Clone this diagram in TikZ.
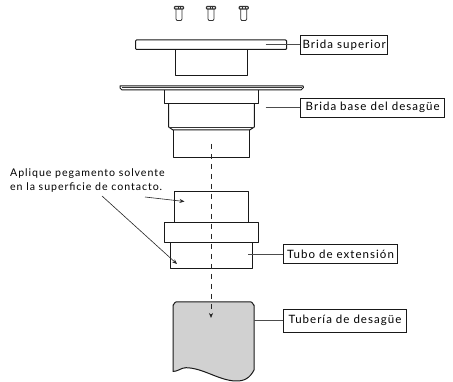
\documentclass[tikz,border=0pt]{standalone}
\usepackage{fontspec}
\setmainfont[LetterSpace=9]{Lato}
\usetikzlibrary{arrows.meta}
\tikzset{
  part/.style={draw=black!90,line width=1pt,line join=round},
  thinpart/.style={draw=black!80,line width=.8pt,line join=round},
  labelbox/.style={draw=black!90,line width=.8pt,fill=white,inner sep=0pt,anchor=center,font=\fontsize{11.5}{13}\selectfont},
  leader/.style={draw=black!70,line width=.9pt},
  callout/.style={draw=black!85,line width=.6pt,-{Stealth[length=5pt,width=4pt]}},
  axisline/.style={draw=black!85,line width=.7pt,dash pattern=on 5pt off 5pt,-{Stealth[length=5pt,width=4pt]}},
  note/.style={inner sep=0pt,anchor=base west,font=\fontsize{10.6}{12}\selectfont}
}
\newcommand{\screw}[1]{%
  \begin{scope}[shift={(#1,0)}]
    \draw[thinpart,fill=white] (-3,8.5) -- (-3,19) -- (-2,20.5) -- (2,20.5) -- (3,19) -- (3,8.5);
    \draw[thinpart,line width=1.1pt,fill=white,rounded corners=.6pt] (-4.5,6.5) rectangle (4.5,9);
    \draw[thinpart,line width=.4pt] (-1.2,6.5) -- (-1.2,9) (1.2,6.5) -- (1.2,9);
  \end{scope}}
\begin{document}
\begin{tikzpicture}[x=1pt,y=-1pt]
\useasboundingbox (0,0) rectangle (453,382);
\fill[white] (0,0) rectangle (453,382);
% screws
\screw{179}\screw{211}\screw{243.7}
% top flange
\draw[part,rounded corners=1pt] (135.5,40) rectangle (286.7,49.5);
\draw[part] (175,49.5) -- (175,76) -- (247.5,76) -- (247.5,49.5);
% base flange
\draw[part,fill=white] (120,86) -- (303,86) -- (303.5,87.5) -- (301,90) -- (122,90) -- (120,88) -- cycle;
\draw[thinpart,line width=.4pt] (122,87.5) -- (302,87.5);
\draw[part] (164.7,90) -- (164.7,103.5) -- (258,103.5) -- (258,90);
\draw[part] (168.7,103.5) -- (168.7,127) -- (173,130) -- (249.7,130) -- (254.3,127) -- (254.3,103.5);
\draw[thinpart,line width=.5pt] (168.7,127) -- (254.3,127);
\draw[part] (173,130) -- (173,157.5) -- (249.7,157.5) -- (249.7,130);
% coupling
\draw[part] (174.3,222.3) -- (174.3,192) -- (248,192) -- (248,222.3);
\draw[part] (164.7,222.3) rectangle (258.3,242.3);
\draw[part] (170,242.3) -- (170,269) -- (252.7,269) -- (252.7,242.3);
% pipe
\draw[part,fill=black!18] (173,371.5) -- (173,305) to[out=-90,in=180] (176,302) -- (251,302) to[out=0,in=-90] (254,305) -- (254,370)
  .. controls (250,378) and (244,381.5) .. (235,381)
  .. controls (218,380) and (203,368) .. (186,367.7)
  .. controls (181,367.7) and (178,371.5) .. (173,371.5) -- cycle;
% axis
\coordinate (axisTop) at (211,144);
\coordinate (axisEnd) at (211,318);
\draw[axisline] (axisTop) -- (axisEnd);
% labels
\node[labelbox,minimum width=87pt,minimum height=19pt] (ls) at (344.2,44.8) {Brida superior};
\node[labelbox,minimum width=144pt,minimum height=19pt] (lb) at (372.7,107.8) {Brida base del desagüe};
\node[labelbox,minimum width=114.4pt,minimum height=19pt] (lt) at (340.5,254) {Tubo de extensión};
\node[labelbox,minimum width=123.4pt,minimum height=22.7pt] (lp) at (345,320.7) {Tubería de desagüe};
\coordinate (fs) at (265.7,44.8);
\coordinate (fb) at (265.7,107.8);
\coordinate (ft) at (248.3,254);
\coordinate (fp) at (254,320.7);
\draw[leader] (fs) -- (ls.west);
\draw[leader] (fb) -- (lb.west);
\draw[leader] (ft) -- (lt.west);
\draw[leader] (fp) -- (lp.west);
% note
\node[note] (n1) at (10,177) {Aplique pegamento solvente};
\node[note] (n2) at (10,191) {en la superficie de contacto.};
\coordinate (a1s) at (145,197);
\coordinate (a1e) at (184.5,201.5);
\coordinate (a2s) at (102,196);
\coordinate (a2e) at (177,264);
\draw[callout] (a1s) -- (a1e);
\draw[callout] (a2s) -- (a2e);
\end{tikzpicture}
\end{document}
